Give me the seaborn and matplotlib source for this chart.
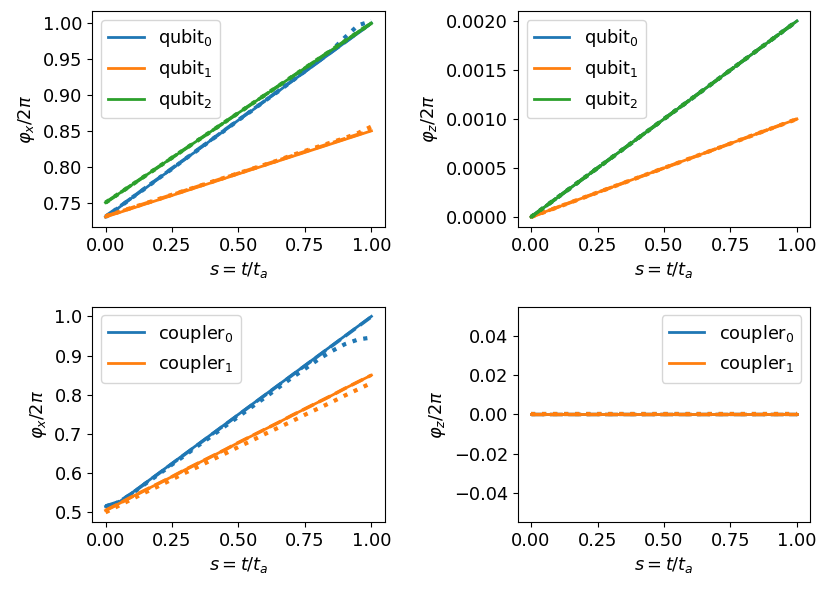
import matplotlib
matplotlib.use("Agg")
import matplotlib.pyplot as plt
import seaborn as sns
import pandas as pd

# ---- data ----
s = [0.00, 0.05, 0.10, 0.15, 0.20, 0.25, 0.30, 0.35, 0.40, 0.45, 0.50,
     0.55, 0.60, 0.65, 0.70, 0.75, 0.80, 0.85, 0.90, 0.95, 1.00]

# phi_x / 2pi for qubits (solid = target, dashed = fit, dotted = realized)
qx0_solid = [0.730, 0.743, 0.757, 0.770, 0.784, 0.797, 0.811, 0.824, 0.838, 0.851, 0.865,
             0.878, 0.892, 0.905, 0.919, 0.932, 0.946, 0.959, 0.973, 0.986, 1.000]
qx0_dash = [0.731, 0.744, 0.757, 0.771, 0.784, 0.798, 0.811, 0.825, 0.838, 0.852, 0.865,
            0.879, 0.892, 0.906, 0.919, 0.933, 0.946, 0.960, 0.973, 0.987, 1.000]
qx0_dot = [0.730, 0.743, 0.757, 0.770, 0.784, 0.797, 0.811, 0.824, 0.838, 0.851, 0.865,
           0.878, 0.892, 0.905, 0.919, 0.933, 0.947, 0.962, 0.980, 0.997, 1.003]
qx1_solid = [0.730, 0.736, 0.742, 0.748, 0.754, 0.760, 0.766, 0.772, 0.778, 0.784, 0.790,
             0.796, 0.802, 0.808, 0.814, 0.820, 0.826, 0.832, 0.838, 0.844, 0.850]
qx1_dash = [0.731, 0.737, 0.743, 0.749, 0.755, 0.761, 0.767, 0.773, 0.779, 0.785, 0.791,
            0.797, 0.803, 0.809, 0.815, 0.821, 0.827, 0.833, 0.839, 0.845, 0.851]
qx1_dot = [0.731, 0.737, 0.743, 0.749, 0.755, 0.761, 0.767, 0.773, 0.779, 0.785, 0.791,
           0.797, 0.803, 0.809, 0.816, 0.822, 0.828, 0.834, 0.840, 0.847, 0.856]
qx2_solid = [0.750, 0.7625, 0.775, 0.7875, 0.800, 0.8125, 0.825, 0.8375, 0.850, 0.8625, 0.875,
             0.8875, 0.900, 0.9125, 0.925, 0.9375, 0.950, 0.9625, 0.975, 0.9875, 1.000]
qx2_dash = qx2_solid
qx2_dot = qx2_solid

# phi_z / 2pi for qubits
qz0 = [0.0000, 0.0001, 0.0002, 0.0003, 0.0004, 0.0005, 0.0006, 0.0007, 0.0008, 0.0009, 0.0010,
       0.0011, 0.0012, 0.0013, 0.0014, 0.0015, 0.0016, 0.0017, 0.0018, 0.0019, 0.0020]
qz1 = [0.00000, 0.00005, 0.00010, 0.00015, 0.00020, 0.00025, 0.00030, 0.00035, 0.00040, 0.00045, 0.00050,
       0.00055, 0.00060, 0.00065, 0.00070, 0.00075, 0.00080, 0.00085, 0.00090, 0.00095, 0.00100]
qz2 = qz0

# phi_x / 2pi for couplers
cx0_solid = [0.515, 0.526, 0.550, 0.575, 0.600, 0.625, 0.650, 0.675, 0.700, 0.725, 0.750,
             0.775, 0.800, 0.825, 0.850, 0.875, 0.900, 0.925, 0.950, 0.975, 1.000]
cx0_dash = [0.516, 0.527, 0.549, 0.574, 0.599, 0.624, 0.649, 0.674, 0.699, 0.724, 0.749,
            0.774, 0.799, 0.824, 0.849, 0.874, 0.899, 0.924, 0.949, 0.974, 0.999]
cx0_dot = [0.515, 0.526, 0.548, 0.573, 0.597, 0.622, 0.646, 0.671, 0.695, 0.720, 0.744,
           0.769, 0.793, 0.818, 0.843, 0.866, 0.890, 0.911, 0.929, 0.941, 0.946]
cx1_solid = [0.505, 0.522, 0.540, 0.557, 0.574, 0.591, 0.609, 0.626, 0.643, 0.660, 0.678,
             0.695, 0.712, 0.729, 0.747, 0.764, 0.781, 0.798, 0.816, 0.833, 0.850]
cx1_dash = cx1_solid
cx1_dot = [0.500, 0.517, 0.534, 0.551, 0.567, 0.584, 0.601, 0.617, 0.634, 0.650, 0.667,
           0.683, 0.700, 0.716, 0.732, 0.749, 0.765, 0.781, 0.798, 0.814, 0.830]

# phi_z / 2pi for couplers
cz = [0.0] * 21

qubit_labels = [r"qubit$_0$", r"qubit$_1$", r"qubit$_2$"]
coupler_labels = [r"coupler$_0$", r"coupler$_1$"]
x_ticks = [0.0, 0.25, 0.5, 0.75, 1.0]
qx_ticks = [0.75, 0.80, 0.85, 0.90, 0.95, 1.00]

# ---- plotting ----
plt.rcParams["font.size"] = 12.8
colors = sns.color_palette("tab10")

fig, axes = plt.subplots(2, 2, figsize=(8.31, 5.9), dpi=100)
fig.subplots_adjust(left=0.111, right=0.975, top=0.981, bottom=0.115,
                    wspace=0.455, hspace=0.37)


def draw(ax, series, labels):
    for i, (solid, dash, dot) in enumerate(series):
        c = colors[i]
        sns.lineplot(x=s, y=solid, ax=ax, color=c, lw=2, label=labels[i])
        sns.lineplot(x=s, y=dash, ax=ax, color=c, lw=2.5, linestyle="--")
        sns.lineplot(x=s, y=dot, ax=ax, color=c, lw=3, linestyle=":")


draw(axes[0, 0], [(qx0_solid, qx0_dash, qx0_dot),
                  (qx1_solid, qx1_dash, qx1_dot),
                  (qx2_solid, qx2_dash, qx2_dot)], qubit_labels)
draw(axes[0, 1], [(qz0, qz0, qz0), (qz1, qz1, qz1), (qz2, qz2, qz2)], qubit_labels)
draw(axes[1, 0], [(cx0_solid, cx0_dash, cx0_dot),
                  (cx1_solid, cx1_dash, cx1_dot)], coupler_labels)
draw(axes[1, 1], [(cz, cz, cz), (cz, cz, cz)], coupler_labels)

axes[0, 0].set_ylabel(r"$\varphi_x/2\pi$")
axes[0, 1].set_ylabel(r"$\varphi_z/2\pi$")
axes[1, 0].set_ylabel(r"$\varphi_x/2\pi$")
axes[1, 1].set_ylabel(r"$\varphi_z/2\pi$")
axes[0, 0].set_yticks(qx_ticks)

for ax in axes.flat:
    ax.set_xlabel(r"$s = t/t_a$")
    ax.set_xticks(x_ticks)

axes[0, 0].legend(loc="upper left")
axes[0, 1].legend(loc="upper left")
axes[1, 0].legend(loc="upper left")
axes[1, 1].legend(loc="upper right")

fig.savefig("out.png", dpi=100)
